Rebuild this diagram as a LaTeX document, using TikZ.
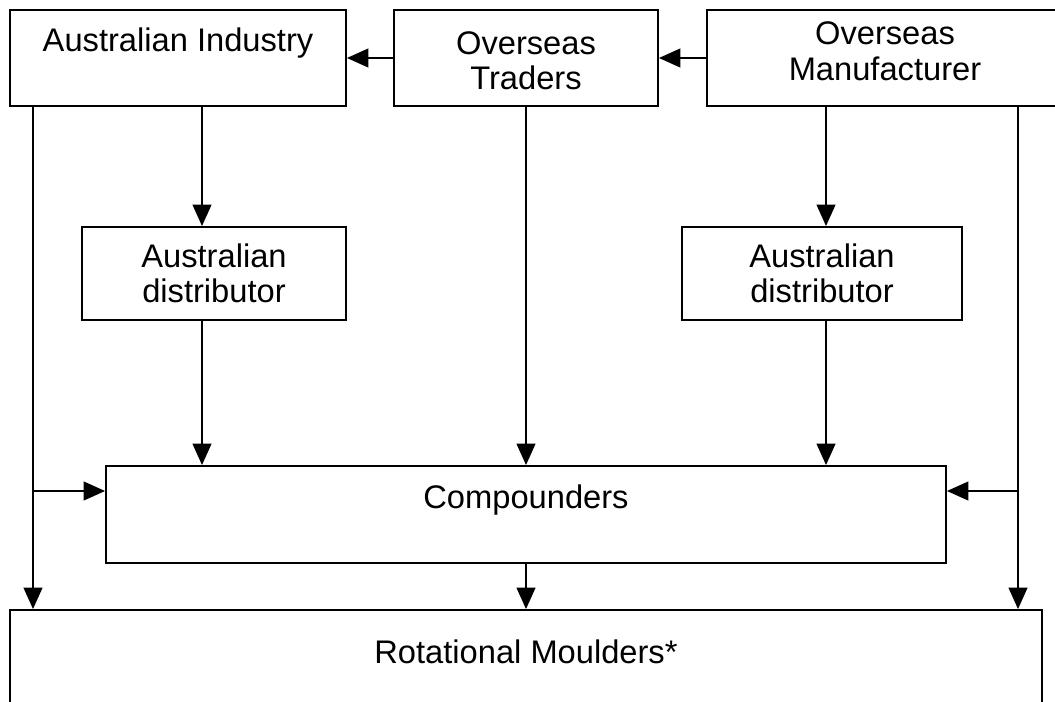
\documentclass[tikz,border=0pt]{standalone}
\usepackage{fontspec}
\setmainfont{Liberation Sans}
\usetikzlibrary{arrows.meta,calc}

\begin{document}
\begin{tikzpicture}[x=0.75pt,y=-0.75pt,font=\fontsize{24.5}{26.5}\selectfont,
  box/.style={draw,line width=1.4pt,align=center,inner sep=0pt},
  lbl/.style={align=center},
  arr/.style={-{Triangle[length=16pt,width=14pt]},line width=1.4pt}]
\useasboundingbox (0,0) rectangle (1055,702);
\clip (0,0) rectangle (1055,702);
% top row
\node[box,minimum width=252pt,minimum height=72pt,
  label={[lbl,yshift=11.2pt]center:Australian Industry}] (ind) at (178,58) {};
\node[box,minimum width=198pt,minimum height=72pt,
  label={[lbl,yshift=-2pt]center:Overseas\\Traders}] (trd) at (526,58) {};
\node[box,minimum width=267pt,minimum height=72pt,
  label={[lbl,yshift=5pt]center:Overseas\\Manufacturer}] (mfr) at (885,58) {};
% distributors
\node[box,minimum width=198pt,minimum height=69.75pt] (dst1) at (214,273.5) {Australian\\distributor};
\node[box,minimum width=210pt,minimum height=69.75pt] (dst2) at (822,273.5) {Australian\\distributor};
% lower boxes
\node[box,minimum width=630pt,minimum height=72.75pt,
  label={[lbl,yshift=10.8pt]center:Compounders}] (cmp) at (526,514.5) {};
\node[box,minimum width=774pt,minimum height=97.5pt,
  label={[lbl,yshift=17.2pt]center:Rotational Moulders*}] (rot) at (526,675) {};
% columns of the long lines
\coordinate (colA) at (33,0);
\coordinate (colB) at (202,0);
\coordinate (colD) at (826,0);
\coordinate (colE) at (1018,0);
\coordinate (jl) at (33,491);
\coordinate (jr) at (1018,491);
\draw[arr] (trd) -- (ind);
\draw[arr] (mfr) -- (trd);
\draw[arr] (ind.south -| colA) -- (rot.north -| colA);
\draw[arr] (ind.south -| colB) -- (dst1.north -| colB);
\draw[arr] (dst1.south -| colB) -- (cmp.north -| colB);
\draw[arr] (trd) -- (cmp);
\draw[arr] (mfr.south -| colD) -- (dst2.north -| colD);
\draw[arr] (dst2.south -| colD) -- (cmp.north -| colD);
\draw[arr] (mfr.south -| colE) -- (rot.north -| colE);
\draw[arr] (jl) -- (cmp.west |- jl);
\draw[arr] (jr) -- (cmp.east |- jr);
\draw[arr] (cmp) -- (rot);
\end{tikzpicture}
\end{document}
